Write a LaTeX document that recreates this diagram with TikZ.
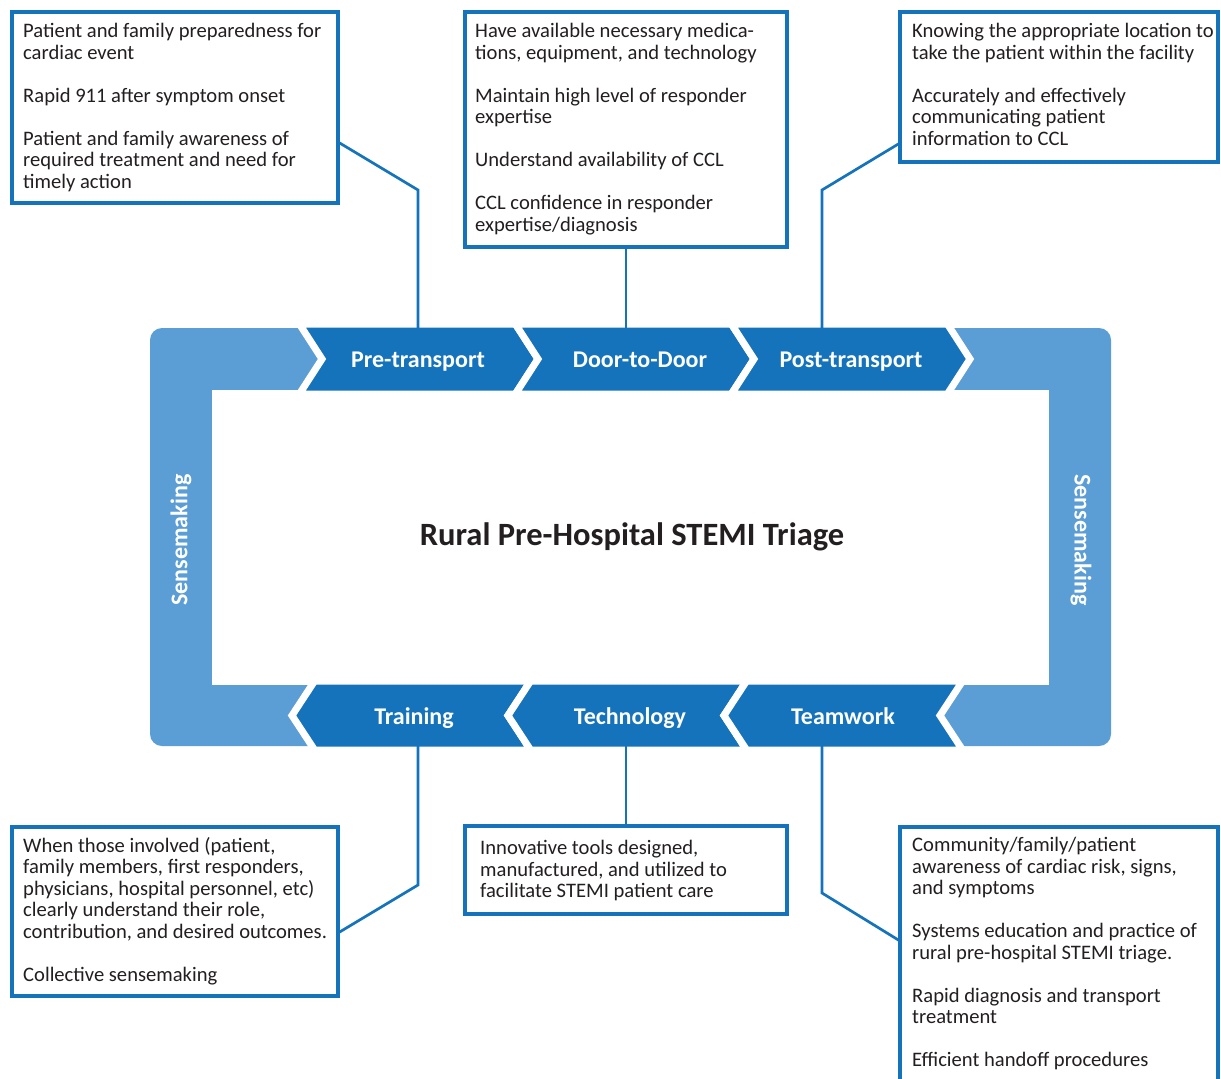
\documentclass[tikz,border=0pt]{standalone}
\usepackage{fontspec}
\setmainfont{Carlito}
\usetikzlibrary{calc}
\definecolor{lightblue}{RGB}{91,157,213}
\definecolor{darkblue}{RGB}{20,115,187}
\definecolor{txtgray}{RGB}{35,31,32}
\begin{document}
\begin{tikzpicture}[x=1pt,y=-1pt,
  chev/.style={fill=darkblue, draw=white, line width=7pt, line join=miter},
  lbl/.style={text=white, font=\fontsize{24}{28}\selectfont\bfseries, inner sep=0pt},
  infobox/.style={draw=darkblue, line width=3.2pt, fill=white, anchor=north west, outer sep=0pt, inner sep=0pt},
  infotxt/.style={anchor=north west, align=left, inner sep=0pt, text=txtgray, font=\fontsize{20.6}{21.5}\selectfont},
  conn/.style={draw=darkblue, line width=2.7pt, line join=miter}
]
\useasboundingbox (0,0) rectangle (1221,1079);
\clip (0,0) rectangle (1221,1079);
\fill[white] (0,0) rectangle (1221,1079);

% frame
\fill[lightblue, rounded corners=12pt] (150,328) rectangle (1111,746);
\fill[white] (212,390) rectangle (1049,685);

% top chevrons
\filldraw[chev] (299.4,324) -- (515.4,324) -- (538,359) -- (515.4,394) -- (299.4,394) -- (322,359) -- cycle;
\filldraw[chev] (515.4,324) -- (731.4,324) -- (754,359) -- (731.4,394) -- (515.4,394) -- (538,359) -- cycle;
\filldraw[chev] (731.4,324) -- (947.4,324) -- (970,359) -- (947.4,394) -- (731.4,394) -- (754,359) -- cycle;
% bottom chevrons
\filldraw[chev] (314.6,681) -- (530.6,681) -- (508,715.5) -- (530.6,750) -- (314.6,750) -- (292,715.5) -- cycle;
\filldraw[chev] (530.6,681) -- (746.6,681) -- (724,715.5) -- (746.6,750) -- (530.6,750) -- (508,715.5) -- cycle;
\filldraw[chev] (746.6,681) -- (962.6,681) -- (940,715.5) -- (962.6,750) -- (746.6,750) -- (724,715.5) -- cycle;

% labels
\node[lbl, anchor=base] (pre) at (418,367) {Pre-transport};
\node[lbl, anchor=base] (door) at (640,367) {Door-to-Door};
\node[lbl, anchor=base] (post) at (851,367) {Post-transport};
\node[lbl, anchor=base] (train) at (414,724) {Training};
\node[lbl, anchor=base] (tech) at (630,724) {Technology};
\node[lbl, anchor=base] (team) at (843,724) {Teamwork};
\node[lbl, rotate=90] (senseL) at (181,540) {Sensemaking};
\node[lbl, rotate=-90] (senseR) at (1081,540) {Sensemaking};
\node[text=txtgray, font=\fontsize{32.5}{36}\selectfont\bfseries, inner sep=0pt, anchor=base] (title) at (632,545) {Rural Pre-Hospital STEMI Triage};

% boxes
\node[infobox, minimum width=326pt, minimum height=191pt] (b1) at (12,12) {};
\node[infobox, minimum width=322pt, minimum height=235pt] (b2) at (465,12) {};
\node[infobox, minimum width=318pt, minimum height=150pt] (b3) at (900,12) {};
\node[infobox, minimum width=326pt, minimum height=169pt] (b4) at (12,827) {};
\node[infobox, minimum width=322pt, minimum height=88pt] (b5) at (465,826) {};
\node[infobox, minimum width=318pt, minimum height=300pt] (b6) at (900,827) {};

\node[infotxt] (t1) at ([shift={(11,11)}]b1.north west) {Patient and family preparedness for\\cardiac event\\[21.5pt]Rapid 911 after symptom onset\\[21.5pt]Patient and family awareness of\\required treatment and need for\\timely action};
\node[infotxt] (t2) at ([shift={(10,11)}]b2.north west) {Have available necessary medica-\\tions, equipment, and technology\\[21.5pt]Maintain high level of responder\\expertise\\[21.5pt]Understand availability of CCL\\[21.5pt]CCL confidence in responder\\expertise/diagnosis};
\node[infotxt] (t3) at ([shift={(12,11)}]b3.north west) {Knowing the appropriate location to\\take the patient within the facility\\[21.5pt]Accurately and effectively\\communicating patient\\information to CCL};
\node[infotxt] (t4) at ([shift={(11,10)}]b4.north west) {When those involved (patient,\\family members, first responders,\\physicians, hospital personnel, etc)\\clearly understand their role,\\contribution, and desired outcomes.\\[21.5pt]Collective sensemaking};
\node[infotxt] (t5) at ([shift={(15,14)}]b5.north west) {Innovative tools designed,\\manufactured, and utilized to\\facilitate STEMI patient care};
\node[infotxt] (t6) at ([shift={(12,10)}]b6.north west) {Community/family/patient\\awareness of cardiac risk, signs,\\and symptoms\\[21.5pt]Systems education and practice of\\rural pre-hospital STEMI triage.\\[21.5pt]Rapid diagnosis and transport\\treatment\\[21.5pt]Efficient handoff procedures};

% connectors
\coordinate (preT) at (418,328);
\coordinate (preK) at (418,190);
\coordinate (b1c) at ($(b1.north east)+(0,130)$);
\draw[conn] (preT) -- (preK) -- (b1c);

\coordinate (doorT) at (626,328);
\draw[conn] (doorT) -- (b2.south -| doorT);

\coordinate (postT) at (822,328);
\coordinate (postK) at (822,190);
\coordinate (b3c) at ($(b3.north west)+(0,131)$);
\draw[conn] (postT) -- (postK) -- (b3c);

\coordinate (trainB) at (418,746);
\coordinate (trainK) at (418,885);
\coordinate (b4c) at ($(b4.north east)+(0,106)$);
\draw[conn] (trainB) -- (trainK) -- (b4c);

\coordinate (techB) at (626,746);
\draw[conn] (techB) -- (b5.north -| techB);

\coordinate (teamB) at (822,746);
\coordinate (teamK) at (822,893);
\coordinate (b6c) at ($(b6.north west)+(0,114)$);
\draw[conn] (teamB) -- (teamK) -- (b6c);
\end{tikzpicture}
\end{document}
